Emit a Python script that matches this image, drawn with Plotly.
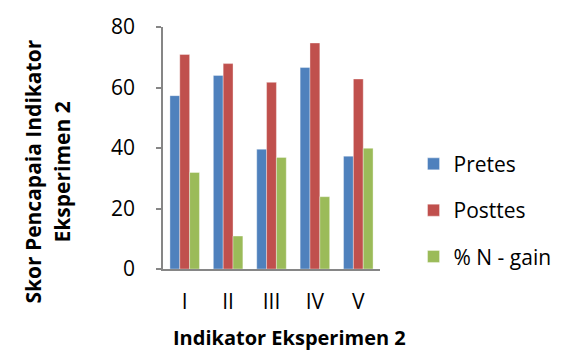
import plotly.graph_objects as go

categories = ["I", "II", "III", "IV", "V"]
pretes = [57.3, 64.0, 39.6, 66.6, 37.3]
posttes = [70.9, 67.9, 61.7, 74.7, 62.8]
n_gain = [31.9, 10.9, 36.9, 23.9, 39.9]
y_ticks = [0, 20, 40, 60, 80]

FONT = "Open Sans"
L, R, T, B = 163, 173, 22, 85
W, H = 569, 354
PW, PH = W - L - R, H - T - B


def px_x(x):
    return (x - L) / PW


def px_y(y):
    return (H - B - y) / PH


fig = go.Figure()
series = [
    ("Pretes", pretes, "#4F81BD"),
    ("Posttes", posttes, "#C0504D"),
    ("% N - gain", n_gain, "#9BBB59"),
]
for name, vals, color in series:
    fig.add_trace(go.Bar(
        x=categories, y=vals, name=name, legendgroup=name,
        marker=dict(color=color, line=dict(color="rgba(255,255,255,0.6)", width=0.6)),
    ))

fig.update_layout(
    width=W, height=H,
    margin=dict(l=L, r=R, t=T, b=B),
    paper_bgcolor="white", plot_bgcolor="white",
    barmode="group", bargap=0.32, bargroupgap=0,
    font=dict(family=FONT, size=21, color="black"),
    showlegend=True,
    legend=dict(
        x=px_x(432), y=px_y(209), xanchor="left", yanchor="middle",
        font=dict(family=FONT, size=21, color="black"),
        traceorder="grouped", tracegroupgap=16,
        itemwidth=30,
    ),
)

fig.update_xaxes(
    showline=True, linecolor="#868686", linewidth=1.5,
    ticks="", showgrid=False, ticklabelstandoff=13,
    tickfont=dict(size=21),
)
fig.update_yaxes(
    range=[0, 80], tickvals=y_ticks,
    showline=True, linecolor="#868686", linewidth=1.5,
    ticks="outside", ticklen=5, tickcolor="#868686", tickwidth=1.5,
    showgrid=False, zeroline=False, ticklabelstandoff=17,
    tickfont=dict(size=21),
)

# y-axis title, two rotated lines
for text, xc in (("Skor Pencapaia Indikator", 23), ("Eksperimen 2", 55)):
    fig.add_annotation(
        text=f"<b>{text}</b>",
        xref="paper", yref="paper", x=px_x(xc), y=px_y(170),
        xanchor="center", yanchor="middle",
        textangle=-90, showarrow=False,
        font=dict(family=FONT, size=21, color="black"),
    )

fig.add_annotation(
    text="<b>Indikator Eksperimen 2</b>",
    xref="paper", yref="paper", x=px_x(299), y=px_y(339),
    showarrow=False, xanchor="center", yanchor="middle",
    font=dict(family=FONT, size=20, color="black"),
)

fig.write_html("out.html")
